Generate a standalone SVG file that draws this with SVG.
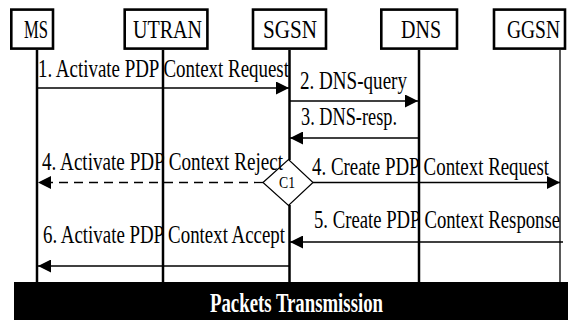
<svg xmlns="http://www.w3.org/2000/svg" width="568" height="320" viewBox="0 0 568 320">
  <style>
    .box { fill: #fff; stroke: #000; stroke-width: 2.6; }
    .life { stroke: #000; stroke-width: 2.5; }
    .life-thin { stroke: #000; stroke-width: 1.3; }
    .msg { stroke: #000; stroke-width: 1.3; fill: none; }
    .dash { stroke-dasharray: 9 6; }
  </style>
  <defs>
    <marker id="ah" viewBox="0 0 13 13" refX="13" refY="6.5" markerWidth="13" markerHeight="13" markerUnits="userSpaceOnUse" orient="auto">
      <path d="M0,0 L13,6.5 L0,13 z" fill="#000"/>
    </marker>
  </defs>

  <rect width="568" height="320" fill="#fff"/>

  <!-- lifelines -->
  <g id="lifelines">
    <line class="life" x1="37" y1="50" x2="37" y2="282"/>
    <line class="life" x1="163" y1="50" x2="163" y2="282"/>
    <line class="life" x1="289.5" y1="50" x2="289.5" y2="160"/>
    <line class="life" x1="289.5" y1="205" x2="289.5" y2="282"/>
    <line class="life" x1="419" y1="50" x2="419" y2="282"/>
    <line class="life-thin" x1="560" y1="50" x2="560" y2="282"/>
  </g>

  <g fill="#000" font-family="'Liberation Serif', 'Times New Roman', serif">
    <!-- participants -->
    <g id="ms" font-size="26">
      <rect class="box" x="11.3" y="9.6" width="41.7" height="39"/>
      <text x="24" y="38" textLength="24" lengthAdjust="spacingAndGlyphs">MS</text>
    </g>
    <g id="utran" font-size="26">
      <rect class="box" x="124.7" y="9.6" width="82.7" height="39"/>
      <text x="133" y="38" textLength="69" lengthAdjust="spacingAndGlyphs">UTRAN</text>
    </g>
    <g id="sgsn" font-size="26">
      <rect class="box" x="253" y="9.6" width="73" height="39"/>
      <text x="263" y="38" textLength="54" lengthAdjust="spacingAndGlyphs">SGSN</text>
    </g>
    <g id="dns" font-size="26">
      <rect class="box" x="381.3" y="9.6" width="75.7" height="39"/>
      <text x="401" y="38" textLength="40" lengthAdjust="spacingAndGlyphs">DNS</text>
    </g>
    <g id="ggsn" font-size="26">
      <rect class="box" x="494" y="9.6" width="71" height="39"/>
      <text x="507" y="38" textLength="53" lengthAdjust="spacingAndGlyphs">GGSN</text>
    </g>

    <!-- condition C1 on the SGSN lifeline -->
    <g id="c1" font-size="16">
      <path d="M263,182.5 L288.5,159.5 L313,182.5 L288.5,205.5 z" fill="#fff" stroke="#000" stroke-width="1.2"/>
      <text x="279" y="187.5" textLength="16" lengthAdjust="spacingAndGlyphs">C1</text>
    </g>

    <!-- messages -->
    <g id="connectors">
      <line class="msg" x1="37" y1="88" x2="289" y2="88" marker-end="url(#ah)"/>
      <line class="msg" x1="289" y1="101" x2="418" y2="101" marker-end="url(#ah)"/>
      <line class="msg" x1="419" y1="138" x2="290" y2="138" marker-end="url(#ah)"/>
      <line class="msg dash" x1="263" y1="182.5" x2="38" y2="182.5" marker-end="url(#ah)"/>
      <line class="msg" x1="313" y1="182.5" x2="560" y2="182.5" marker-end="url(#ah)"/>
      <line class="msg" x1="563" y1="242" x2="290" y2="242" marker-end="url(#ah)"/>
      <line class="msg" x1="289" y1="266" x2="38" y2="266" marker-end="url(#ah)"/>
    </g>

    <!-- message labels -->
    <g id="labels" font-size="26">
      <text x="38" y="77" textLength="251" lengthAdjust="spacingAndGlyphs">1. Activate PDP Context Request</text>
      <text x="300" y="89" textLength="107" lengthAdjust="spacingAndGlyphs">2. DNS-query</text>
      <text x="301" y="125" textLength="96" lengthAdjust="spacingAndGlyphs">3. DNS-resp.</text>
      <text x="42" y="170" textLength="241" lengthAdjust="spacingAndGlyphs">4. Activate PDP Context Reject</text>
      <text x="312" y="175" textLength="237" lengthAdjust="spacingAndGlyphs">4. Create PDP Context Request</text>
      <text x="314" y="228" textLength="246" lengthAdjust="spacingAndGlyphs">5. Create PDP Context Response</text>
      <text x="43" y="243" textLength="242" lengthAdjust="spacingAndGlyphs">6. Activate PDP Context Accept</text>
    </g>

    <!-- data phase band -->
    <g id="packets">
      <rect x="14" y="282" width="554" height="38" fill="#000"/>
      <text x="210" y="312" font-size="27" font-weight="bold" fill="#fff" textLength="173" lengthAdjust="spacingAndGlyphs">Packets Transmission</text>
    </g>
  </g>
</svg>
